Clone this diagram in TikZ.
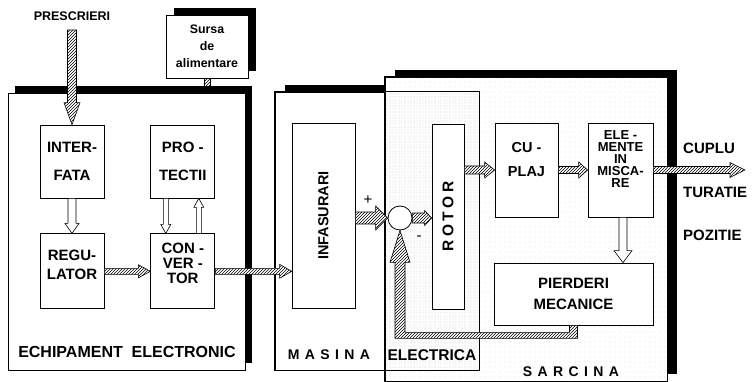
\documentclass[tikz,border=0pt]{standalone}
\usepackage{fontspec}
\setmainfont{Liberation Sans}
\usepackage{graphicx}
\usepackage{tikz}
\usetikzlibrary{calc,positioning,shadows,patterns,patterns.meta}

\newcommand{\fs}[2]{\fontsize{#1}{#2}\selectfont\bfseries}
\newcommand{\ls}{\kern5.4pt}
% fat arrow: [style] tail, tip, shaft half width, head half width, head length
\newcommand{\fatarrow}[6][hatch]{%
  \path let \p1=($#3-#2$) in \pgfextra{%
    \pgfmathparse{atan2(\y1,\x1)}\xdef\arrang{\pgfmathresult}%
    \pgfmathparse{veclen(\x1,\y1)}\xdef\arrlen{\pgfmathresult}};
  \path[#1,shift={#2},rotate=\arrang] (0pt,#4pt) -- (\arrlen pt-#6pt,#4pt) -- (\arrlen pt-#6pt,#5pt)
    -- (\arrlen pt,0pt) -- (\arrlen pt-#6pt,-#5pt) -- (\arrlen pt-#6pt,-#4pt) -- (0pt,-#4pt) -- cycle;}

\begin{document}
\begin{tikzpicture}[x=1pt,y=-1pt,
  grp/.style={draw,fill=white,line width=.9pt,drop shadow={shadow xshift=#1,shadow yshift=7pt,opacity=1,fill=black}},
  grp/.default=7pt,
  blk/.style={draw,fill=white,line width=.8pt,inner sep=0pt,align=center,font=\fs{15}{27.5}},
  txt/.style={align=center,inner sep=0pt},
  hatch/.style={draw,line width=.6pt,fill=white,postaction={pattern=north east lines}},
  hollow/.style={draw,line width=.6pt,fill=white}]
\useasboundingbox (0,0) rectangle (754,382);

% groups
\node[grp,minimum width=237pt,minimum height=277pt] (echip) at (126.5,231.5) {};
\node[grp=8pt,minimum width=82pt,minimum height=63pt,align=center,inner sep=0pt,font=\fs{12.4}{17}] (sursa) at (207,46.5) {Sursa\\de\\alimentare};
\node[grp=10pt,minimum width=204pt,minimum height=278pt] (masina) at (377,231) {};
\node[grp=10pt,minimum width=282pt,minimum height=304pt,postaction={pattern={Dots[distance=5pt,radius=.4pt]},pattern color=black!30}] (sarc) at (526,229) {};
\fill[pattern={Dots[distance=3pt,radius=.4pt]},pattern color=black!35] (sarc.west |- masina.north) rectangle (masina.south east);
\draw[line width=.9pt] (masina.north west) rectangle (masina.south east);
\draw[line width=.9pt] (sarc.north west) rectangle (sarc.south east);

% electronic equipment
\node[txt,font=\fs{12.5}{15}] (presc) at (72,16) {PRESCRIERI};
\coordinate (prtail) at (72,30);
\node[blk,minimum width=64pt,minimum height=73pt] (interf) at (72,161.5) {INTER-\\FATA};
\node[blk,minimum width=64pt,minimum height=75pt,below=35pt of interf] (regul) {};
\node[txt,font=\fs{15}{19.5}] (regult) at ($(regul)+(0,-6.5)$) {REGU-\\LATOR};
\node[blk,minimum width=64pt,minimum height=75pt,right=46pt of regul] (conv) {};
\node[txt,font=\fs{15}{15}] (convt) at ($(conv)+(0,-7.5)$) {CON -\\VER -\\TOR};
\node[blk,minimum width=64pt,minimum height=73pt,above=35pt of conv] (protec) {PRO -\\TECTII};
\node[txt,font=\fs{16}{18}] (echipl) at (127,352) {ECHIPAMENT\ \ ELECTRONIC};

% machine
\node[blk,minimum width=63pt,minimum height=185pt,font=\fs{14.5}{17}] (infas) at (323.5,215.5) {\rotatebox{90}{INFASURARI}};
\node[circle,draw,fill=white,line width=.8pt,minimum size=24pt,inner sep=0pt] (sum) at (400,218) {};
\node[txt,font=\fs{15}{17}\mdseries] (plus) at ($(sum)+(-32,-18)$) {+};
\node[txt,font=\fs{15}{17}\mdseries] (minus) at ($(sum)+(19,20)$) {-};
\node[blk,minimum width=32pt,minimum height=185pt,font=\fs{15.5}{17}] (rotor) at (448,216.5) {\rotatebox{90}{R\kern3.5pt O\kern3.5pt T\kern3.5pt O\kern3.5pt R}};
\node[txt,font=\fs{14}{17}] (masl) at (329,355) {M\ls A\ls S\ls I\ls N\ls A};
\node[txt,font=\fs{15.5}{17}] (elecl) at (432,355) {ELECTRICA};

% load
\node[blk,minimum width=63pt,minimum height=94pt] (cuplaj) at (526.5,170) {};
\node[txt,font=\fs{14.5}{24}] (cuplajt) at ($(cuplaj)+(0,-10)$) {CU -\\PLAJ};
\node[blk,minimum width=65pt,minimum height=94pt] (elem) at (620.5,170) {};
\node[txt,font=\fs{13}{12}] (elemt) at ($(elem)+(0,-11)$) {ELE -\\MENTE\\IN\\MISCA-\\RE};
\node[blk,minimum width=159pt,minimum height=62pt,font=\fs{15}{21}] (pierd) at (573.5,294) {PIERDERI\\MECANICE};
\node[txt,font=\fs{14}{17}] (sarcl) at (571,372) {S\ls A\ls R\ls C\ls I\ls N\ls A};
\coordinate (out) at (745,170);
\node[txt,font=\fs{15}{17},anchor=west] (cuplu) at (683,148) {CUPLU};
\node[txt,font=\fs{15}{17},anchor=west] (turatie) at (683,192) {TURATIE};
\node[txt,font=\fs{15}{17},anchor=west] (pozitie) at (683,235) {POZITIE};

% arrows
\path[hatch] ($(sursa.south)+(-3,0)$) rectangle ($(sursa.south)+(3,8)$);
\fatarrow{(prtail)}{(interf.north)}{4.5}{8}{22}
\fatarrow[hollow]{(interf.south)}{(regul.north)}{4}{7}{10}
\fatarrow[hollow]{([xshift=-17pt]protec.south)}{([xshift=-17pt]conv.north)}{2.5}{5}{9}
\fatarrow[hollow]{([xshift=16pt]conv.north)}{([xshift=16pt]protec.south)}{2.5}{5}{9}
\fatarrow{(regul.east)}{(conv.west)}{3}{6.5}{12}
\fatarrow{(conv.east)}{(infas.west |- conv.east)}{3}{7}{12}
\fatarrow{(infas.east |- sum.west)}{(sum.west)}{6}{12}{12}
\fatarrow{(sum.east)}{(sum.east -| rotor.west)}{5}{7.5}{7}
\fatarrow{(rotor.east |- cuplaj.west)}{(cuplaj.west)}{4}{8}{10}
\fatarrow{(cuplaj.east)}{(elem.west)}{3.5}{8}{9}
\fatarrow{(elem.east)}{(out)}{3.5}{7.5}{15}
\fatarrow[hollow]{([xshift=2.5pt]elem.south)}{([xshift=2.5pt]elem.south |- pierd.north)}{4}{9}{12}
\coordinate (fb) at (sum.south |- pierd.south);
\path[hatch] ($(pierd.south)+(-4,0)$) -- ($(pierd.south)+(4,0)$) -- ($(pierd.south)+(4,13)$) -- ($(fb)+(-5,13)$)
  -- ($(sum.south)+(-5,32)$) -- ($(sum.south)+(-10,32)$) -- (sum.south) -- ($(sum.south)+(10,32)$)
  -- ($(sum.south)+(5,32)$) -- ($(fb)+(5,7)$) -- ($(pierd.south)+(-4,7)$) -- cycle;
\end{tikzpicture}
\end{document}
